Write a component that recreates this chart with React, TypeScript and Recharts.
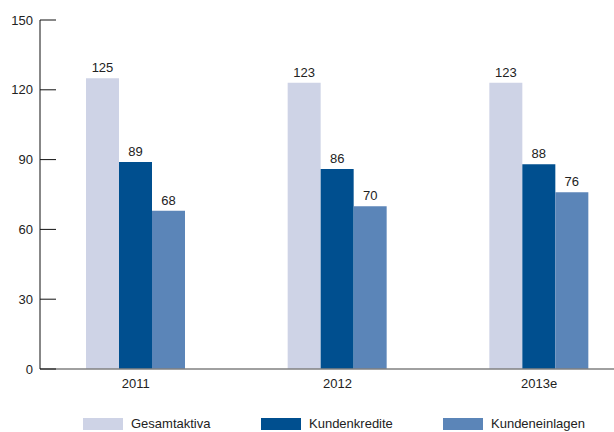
import { BarChart, Bar, XAxis, YAxis, LabelList, Legend } from 'recharts';

const years = ['2011', '2012', '2013e'];
const gesamtaktiva = [125, 123, 123];
const kundenkredite = [89, 86, 88];
const kundeneinlagen = [68, 70, 76];
const yTicks = [0, 30, 60, 90, 120, 150];

const series = [
  { key: 'gesamtaktiva', name: 'Gesamtaktiva', color: '#CED3E6' },
  { key: 'kundenkredite', name: 'Kundenkredite', color: '#004F8F' },
  { key: 'kundeneinlagen', name: 'Kundeneinlagen', color: '#5B85B8' },
];

const data = years.map((year, i) => ({
  year,
  gesamtaktiva: gesamtaktiva[i],
  kundenkredite: kundenkredite[i],
  kundeneinlagen: kundeneinlagen[i],
}));

const font = 'Liberation Sans, Arial, sans-serif';

function YTick({ x, y, payload }: any) {
  return (
    <g>
      <text x={x} y={y} dy="0.355em" textAnchor="end" fontSize={13} fill="#222" fontFamily={font}>
        {payload.value}
      </text>
      <line x1={x + 7} x2={x + 23} y1={y} y2={y} stroke="#111" strokeWidth={1} />
    </g>
  );
}

function LegendContent() {
  const lefts = [83, 261, 443];
  return (
    <div style={{ position: 'relative', height: 16, width: 614, fontFamily: font, fontSize: 13, color: '#222' }}>
      {series.map((s, i) => (
        <div key={s.key} style={{ position: 'absolute', left: lefts[i], top: 0, display: 'flex', alignItems: 'center' }}>
          <span style={{ display: 'inline-block', width: 40, height: 12, background: s.color, marginRight: 8 }} />
          <span>{s.name}</span>
        </div>
      ))}
    </div>
  );
}

export default function App() {
  return (
    <div style={{ position: 'absolute', left: 0, top: 0, width: 614, height: 432, overflow: 'hidden', background: '#fff' }}>
      <BarChart
        width={614}
        height={432}
        data={data}
        margin={{ top: 20, right: 0, left: 0, bottom: 0 }}
        barGap={0}
        barSize={33}
      >
        <XAxis
          dataKey="year"
          axisLine={{ stroke: '#808080', strokeWidth: 1.5 }}
          tickLine={false}
          tickSize={0}
          tickMargin={10}
          padding={{ left: -5, right: -26 }}
          tick={{ fontSize: 13, fill: '#222', fontFamily: font }}
          height={47}
        />
        <YAxis
          domain={[0, 150]}
          ticks={yTicks}
          width={40}
          axisLine={{ stroke: '#111', strokeWidth: 1 }}
          tickLine={false}
          tickSize={0}
          tickMargin={7}
          tick={<YTick />}
        />
        <Legend verticalAlign="bottom" height={16} content={<LegendContent />} />
        {series.map((s) => (
          <Bar key={s.key} dataKey={s.key} name={s.name} fill={s.color} isAnimationActive={false}>
            <LabelList dataKey={s.key} position="top" offset={6} style={{ fontSize: 13, fill: '#222', fontFamily: font }} />
          </Bar>
        ))}
      </BarChart>
    </div>
  );
}
